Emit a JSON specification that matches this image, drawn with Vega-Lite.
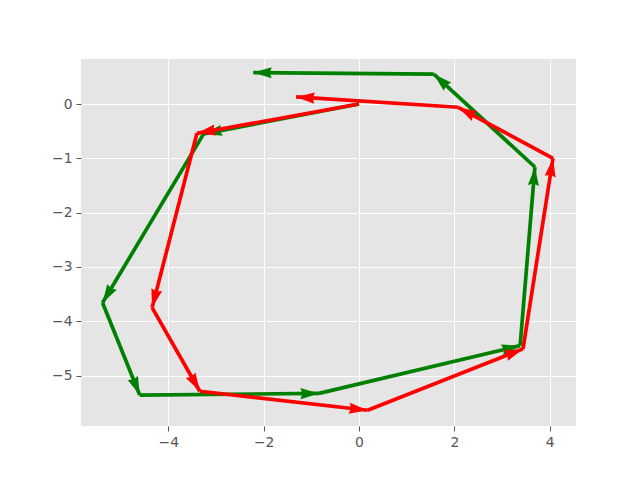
{
  "$schema": "https://vega.github.io/schema/vega-lite/v6.json",
  "width": 495,
  "height": 367,
  "autosize": {"type": "none"},
  "padding": {"left": 81, "top": 59, "right": 64, "bottom": 54},
  "background": "white",
  "config": {
    "view": {"fill": "#e5e5e5", "stroke": null},
    "axis": {
      "domain": false,
      "grid": true,
      "gridColor": "white",
      "gridWidth": 1,
      "tickColor": "#555555",
      "tickSize": 5,
      "tickWidth": 1,
      "labelColor": "#555555",
      "labelFont": "DejaVu Sans",
      "labelFontSize": 13.9,
      "labelPadding": 4,
      "title": null
    }
  },
  "data": {
    "values": [
      {"series": "green", "x": 0, "y": 0, "x2": -3.26, "y2": -0.55},
      {"series": "green", "x": -3.26, "y": -0.55, "x2": -5.38, "y2": -3.66},
      {"series": "green", "x": -5.38, "y": -3.66, "x2": -4.6, "y2": -5.36},
      {"series": "green", "x": -4.6, "y": -5.36, "x2": -0.84, "y2": -5.33},
      {"series": "green", "x": -0.84, "y": -5.33, "x2": 3.38, "y2": -4.45},
      {"series": "green", "x": 3.38, "y": -4.45, "x2": 3.69, "y2": -1.16},
      {"series": "green", "x": 3.69, "y": -1.16, "x2": 1.57, "y2": 0.55},
      {"series": "green", "x": 1.57, "y": 0.55, "x2": -2.22, "y2": 0.58},
      {"series": "red", "x": 0, "y": 0, "x2": -3.4, "y2": -0.54},
      {"series": "red", "x": -3.4, "y": -0.54, "x2": -4.34, "y2": -3.75},
      {"series": "red", "x": -4.34, "y": -3.75, "x2": -3.34, "y2": -5.29},
      {"series": "red", "x": -3.34, "y": -5.29, "x2": 0.18, "y2": -5.64},
      {"series": "red", "x": 0.18, "y": -5.64, "x2": 3.44, "y2": -4.51},
      {"series": "red", "x": 3.44, "y": -4.51, "x2": 4.07, "y2": -1.0},
      {"series": "red", "x": 4.07, "y": -1.0, "x2": 2.08, "y2": -0.06},
      {"series": "red", "x": 2.08, "y": -0.06, "x2": -1.32, "y2": 0.13}
    ]
  },
  "transform": [
    {"calculate": "atan2((datum.x2 - datum.x) * 47.67, (datum.y2 - datum.y) * 54.3) * 180 / PI", "as": "angle"}
  ],
  "encoding": {
    "x": {
      "field": "x", "type": "quantitative",
      "scale": {"domain": [-5.832, 4.552], "nice": false, "zero": false},
      "axis": {"values": [-4, -2, 0, 2, 4]}
    },
    "y": {
      "field": "y", "type": "quantitative",
      "scale": {"domain": [-5.93, 0.829], "nice": false, "zero": false},
      "axis": {"values": [0, -1, -2, -3, -4, -5]}
    }
  },
  "layer": [
    {
      "transform": [{"filter": "datum.series === 'green'"}],
      "mark": {"type": "rule", "color": "#008000", "strokeWidth": 3.7, "strokeCap": "butt"},
      "encoding": {"x2": {"field": "x2"}, "y2": {"field": "y2"}}
    },
    {
      "transform": [{"filter": "datum.series === 'green'"}],
      "mark": {"type": "point", "filled": true, "color": "#008000", "opacity": 1, "strokeWidth": 0, "size": 1369, "shape": "M0,0L-0.3,1L0,0.9L0.3,1Z"},
      "encoding": {
        "x": {"field": "x2", "type": "quantitative"},
        "y": {"field": "y2", "type": "quantitative"},
        "angle": {"field": "angle", "type": "quantitative", "scale": null}
      }
    },
    {
      "transform": [{"filter": "datum.series === 'red'"}],
      "mark": {"type": "rule", "color": "#ff0000", "strokeWidth": 3.7, "strokeCap": "butt"},
      "encoding": {"x2": {"field": "x2"}, "y2": {"field": "y2"}}
    },
    {
      "transform": [{"filter": "datum.series === 'red'"}],
      "mark": {"type": "point", "filled": true, "color": "#ff0000", "opacity": 1, "strokeWidth": 0, "size": 1369, "shape": "M0,0L-0.3,1L0,0.9L0.3,1Z"},
      "encoding": {
        "x": {"field": "x2", "type": "quantitative"},
        "y": {"field": "y2", "type": "quantitative"},
        "angle": {"field": "angle", "type": "quantitative", "scale": null}
      }
    }
  ]
}
